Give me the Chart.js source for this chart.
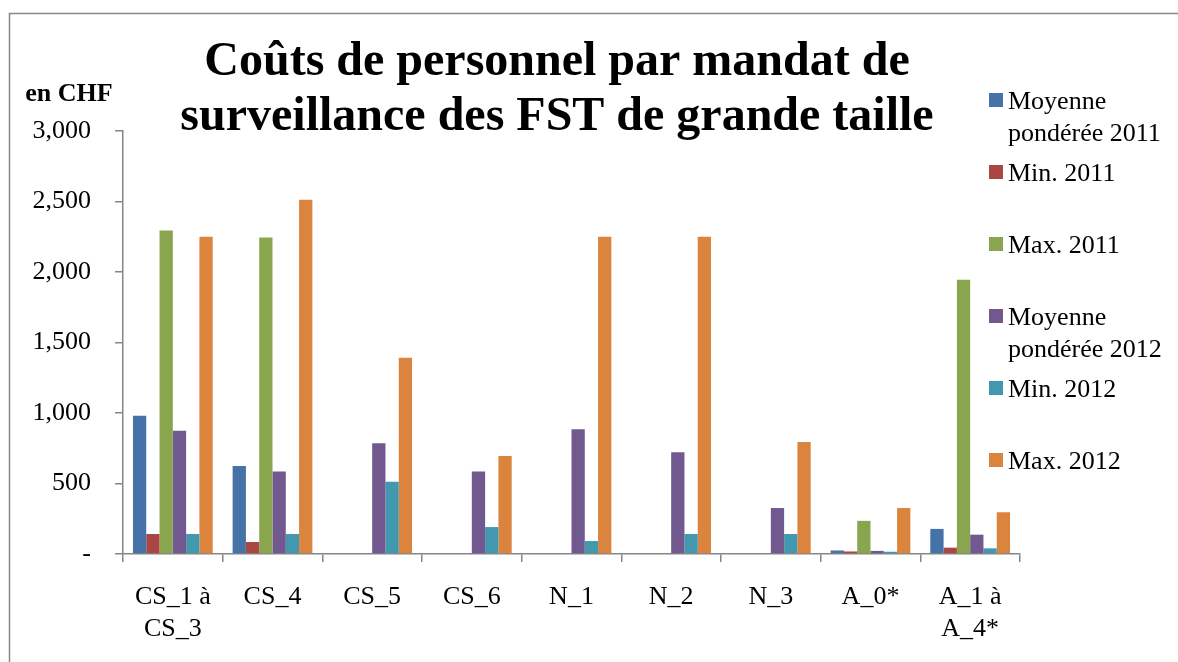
<!DOCTYPE html>
<html>
<head>
<meta charset="utf-8">
<script src="https://cdn.jsdelivr.net/npm/chart.js@4/dist/chart.umd.min.js"></script>
<style>
  html, body { margin: 0; padding: 0; background: #fff; }
  #wrap { position: relative; width: 1178px; height: 662px; }
</style>
</head>
<body>
<div id="wrap"><canvas id="c" width="1178" height="662"></canvas></div>
<script>
const titleLines = ['Coûts de personnel par mandat de', 'surveillance des FST de grande taille'];
const yAxisTitle = 'en CHF';
const categories = [['CS_1 à', 'CS_3'], 'CS_4', 'CS_5', 'CS_6', 'N_1', 'N_2', 'N_3', 'A_0*', ['A_1 à', 'A_4*']];
const seriesNames = [['Moyenne', 'pondérée 2011'], ['Min. 2011'], ['Max. 2011'], ['Moyenne', 'pondérée 2012'], ['Min. 2012'], ['Max. 2012']];
const moy2011 = [980, 625, null, null, null, null, null, 25, 178];
const min2011 = [142, 85, null, null, null, null, null, 18, 45];
const max2011 = [2295, 2245, null, null, null, null, null, 235, 1945];
const moy2012 = [875, 585, 785, 585, 885, 722, 326, 22, 137];
const min2012 = [142, 142, 513, 191, 92, 142, 142, 16, 40];
const max2012 = [2250, 2512, 1392, 695, 2250, 2250, 795, 326, 296];
const yTickValues = [0, 500, 1000, 1500, 2000, 2500, 3000];
const yTickLabels = ['-', '500', '1,000', '1,500', '2,000', '2,500', '3,000'];

const colors = ['#4572A7', '#AA4643', '#89A54E', '#71588F', '#4198AF', '#DB843D'];
const seriesData = [moy2011, min2011, max2011, moy2012, min2012, max2012];
const FONT = "'Liberation Serif', 'Times New Roman', serif";
const AXIS = '#868686';

const decorPlugin = {
  id: 'decor',
  afterDraw(chart) {
    const ctx = chart.ctx;
    ctx.save();
    // outer frame
    ctx.strokeStyle = AXIS;
    ctx.lineWidth = 1.5;
    ctx.strokeRect(9.5, 13.5, 1200, 700);
    // title
    ctx.fillStyle = '#000';
    ctx.font = 'bold 48px ' + FONT;
    ctx.textAlign = 'center';
    ctx.textBaseline = 'alphabetic';
    const tx = 557;
    ctx.fillText(titleLines[0], tx, 75);
    ctx.fillText(titleLines[1], tx, 130);
    // y axis title
    ctx.font = 'bold 26px ' + FONT;
    ctx.fillText(yAxisTitle, 69, 101);
    // legend
    ctx.font = '26px ' + FONT;
    ctx.textAlign = 'left';
    chart.data.datasets.forEach((ds, i) => {
      const cy = 100 + i * 72;
      ctx.fillStyle = ds.backgroundColor;
      ctx.fillRect(989, cy - 7, 14, 14);
      ctx.fillStyle = '#000';
      const lines = seriesNames[i];
      lines.forEach((ln, j) => {
        ctx.fillText(ln, 1008, cy + 9 + j * 32);
      });
    });
    ctx.restore();
  }
};

new Chart(document.getElementById('c'), {
  type: 'bar',
  data: {
    labels: categories,
    datasets: seriesData.map((d, i) => ({
      label: seriesNames[i].join(' '),
      data: d,
      backgroundColor: colors[i],
      borderWidth: 0,
      categoryPercentage: 0.8,
      barPercentage: 1.0
    }))
  },
  options: {
    responsive: false,
    animation: false,
    layout: { padding: { left: 0, right: 158, top: 131, bottom: 0 } },
    plugins: {
      legend: { display: false },
      title: { display: false },
      tooltip: { enabled: false }
    },
    scales: {
      x: {
        grid: { display: true, drawOnChartArea: false, drawTicks: true, tickLength: 8, color: AXIS, lineWidth: 1.5, offset: true },
        border: { display: true, color: AXIS, width: 1.5 },
        ticks: { color: '#000', font: { family: FONT, size: 26, lineHeight: 1.2 }, padding: 20, maxRotation: 0, autoSkip: false },
        afterFit(s) { s.height = 108; }
      },
      y: {
        min: 0,
        max: 3000,
        afterBuildTicks(s) { s.ticks = yTickValues.map(v => ({ value: v })); },
        grid: { display: true, drawOnChartArea: false, drawTicks: true, tickLength: 8, color: AXIS, lineWidth: 1.5 },
        border: { display: true, color: AXIS, width: 1.5 },
        ticks: {
          color: '#000',
          font: { family: FONT, size: 26 },
          padding: 24,
          callback(v) { const k = yTickValues.indexOf(v); return k >= 0 ? yTickLabels[k] : ''; }
        },
        afterFit(s) { s.width = 123; }
      }
    }
  },
  plugins: [decorPlugin]
});
</script>
</body>
</html>
